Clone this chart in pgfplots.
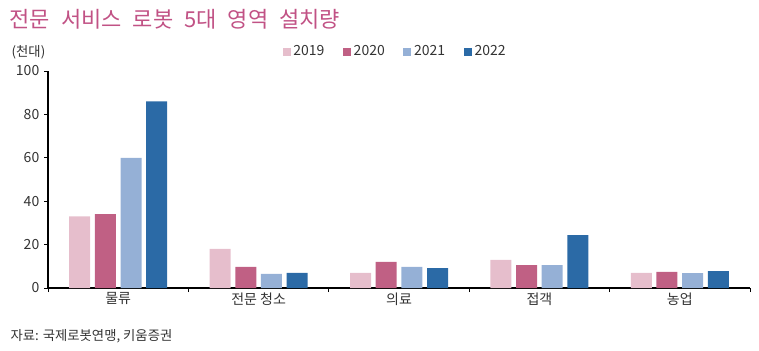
\documentclass[border=0pt]{standalone}
\usepackage{pgfplots}
\pgfplotsset{compat=1.18}
\usepackage{fontspec}
\setmainfont{Noto Sans CJK KR}
\definecolor{cA}{RGB}{230,190,204}
\definecolor{cB}{RGB}{192,96,132}
\definecolor{cC}{RGB}{149,176,214}
\definecolor{cD}{RGB}{43,106,166}
\definecolor{ttl}{RGB}{193,82,133}
\definecolor{txt}{RGB}{51,51,51}
\begin{document}
\begin{tikzpicture}[x=0.75pt,y=0.75pt]
\useasboundingbox (0,0) rectangle (759,350);
\node[anchor=west,text=ttl,font=\fontsize{16.5}{19}\selectfont] at (5,331) {전문\hspace{0.5em}서비스\hspace{0.5em}로봇\hspace{0.5em}5대\hspace{0.5em}영역\hspace{0.5em}설치량};
\node[anchor=west,text=txt,font=\fontsize{10}{12}\selectfont] at (7,298) {(천대)};
\node[anchor=west,text=txt,font=\fontsize{10}{12}\selectfont] at (6,14) {자료: 국제로봇연맹, 키움증권};
\begin{axis}[
  at={(48*0.75pt,62*0.75pt)}, anchor=south west,
  scale only axis, width=526.5pt, height=162.75pt,
  xmin=-0.5, xmax=4.5, ymin=0, ymax=100,
  ytick={0,20,...,100},
  axis lines*=left, axis line style={-, black, line width=0.8pt},
  tick align=outside, major tick length=3pt,
  tick style={black, line width=0.6pt},
  xtick={-0.5,0.5,...,4.5}, xticklabels={},
  extra x ticks={0,1,2,3,4},
  extra x tick labels={물류,전문 청소,의료,접객,농업},
  extra x tick style={major tick length=0pt},
  ticklabel style={font=\fontsize{10.5}{12}\selectfont, text=txt},
  /pgf/number format/assume math mode=true,
  ybar=3.5pt, bar width=15.75pt,
  legend style={at={(0.495,1.088)}, anchor=center, draw=none, fill=none,
    legend columns=4, font=\fontsize{10.5}{12}\selectfont, text=txt,
    /tikz/every even column/.append style={column sep=12pt}},
  legend cell align=left,
]
\addplot[fill=cA, draw=none, legend image code/.code={\fill[cA] (0pt,-3pt) rectangle (6pt,3pt);}] coordinates {(0,33) (1,18) (2,7) (3,13) (4,7)};
\addplot[fill=cB, draw=none, legend image code/.code={\fill[cB] (0pt,-3pt) rectangle (6pt,3pt);}] coordinates {(0,34) (1,9.7) (2,12) (3,10.6) (4,7.4)};
\addplot[fill=cC, draw=none, legend image code/.code={\fill[cC] (0pt,-3pt) rectangle (6pt,3pt);}] coordinates {(0,60) (1,6.5) (2,9.7) (3,10.6) (4,6.9)};
\addplot[fill=cD, draw=none, legend image code/.code={\fill[cD] (0pt,-3pt) rectangle (6pt,3pt);}] coordinates {(0,86) (1,7) (2,9.2) (3,24.4) (4,7.8)};
\legend{2019,2020,2021,2022}
\end{axis}
\end{tikzpicture}
\end{document}
